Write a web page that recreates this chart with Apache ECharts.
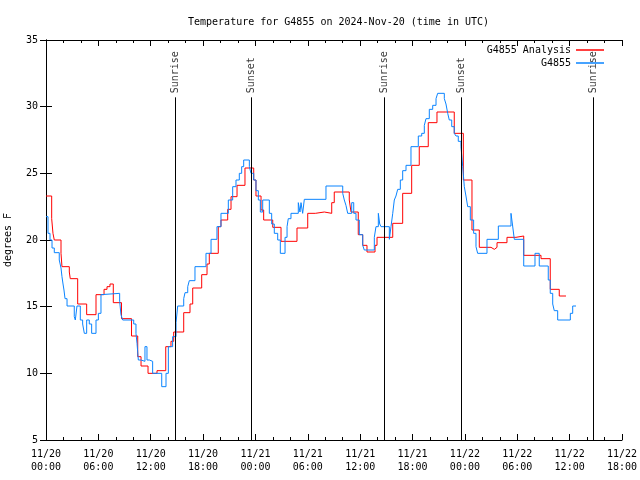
<!DOCTYPE html>
<html>
<head>
<meta charset="utf-8">
<script src="https://cdn.jsdelivr.net/npm/echarts@6/dist/echarts.min.js"></script>
<style>html,body{margin:0;padding:0;background:#fff}#c{width:640px;height:480px}</style>
</head>
<body>
<div id="c"></div>
<script>
// hours since 2024-11-20 00:00 UTC
const redTimes = [0, 0.65, 0.8, 0.95, 1.72, 1.83, 2.67, 2.78, 3.63, 4.66, 5.73, 6.65, 6.99, 7.33, 7.71, 8.65, 9.80, 10.51, 10.89, 11.69, 12.72, 13.72, 14.32, 14.63, 15.78, 16.5, 16.81, 17.84, 18.45, 18.71, 19.74, 20.05, 20.82, 21.2, 21.89, 22.8, 23.8, 24.06, 24.64, 24.94, 25.98, 26.93, 28.76, 29.99, 30.86, 31.89, 32.74, 33.03, 34.75, 34.95, 35.78, 36.29, 36.78, 37.70, 37.93, 39.73, 40.87, 41.90, 42.77, 43.8, 44.8, 46.78, 47.82, 48.81, 49.65, 50.99, 51.37, 51.68, 52.82, 53.85, 54.74, 56.72, 57.78, 58.81, 59.58];
const redTemps = [23.3, 21.6, 20.5, 20.0, 19.0, 18.0, 17.6, 17.1, 15.2, 14.4, 15.9, 16.3, 16.5, 16.7, 15.3, 14.1, 12.8, 11.25, 10.55, 10.0, 10.2, 12.0, 12.4, 13.1, 14.55, 15.2, 16.4, 17.4, 18.2, 19.0, 21.0, 21.5, 22.3, 23.25, 24.1, 25.4, 24.5, 23.3, 22.25, 21.5, 20.95, 19.9, 20.9, 22.0, 22.1, 22.0, 22.8, 23.6, 23.0, 22.1, 20.4, 19.6, 19.1, 19.6, 20.2, 21.25, 23.5, 25.6, 27.0, 28.8, 29.6, 28.0, 24.5, 20.75, 19.45, 19.3, 19.45, 19.8, 20.2, 20.3, 18.85, 18.6, 16.3, 15.8, 15.8];

const blueTimes = [0, 0.23, 0.46, 0.69, 0.95, 1.52, 1.72, 1.83, 1.95, 2.06,
  2.18, 2.41, 3.24, 3.36, 3.55, 3.93, 4.2, 4.39, 4.66, 4.96,
  5.23, 5.73, 6.0, 6.3, 6.49, 8.44, 8.59, 8.79, 10.05, 10.31,
  10.43, 10.58, 10.89, 11.34, 11.57, 11.84, 12.22, 13.26, 13.75, 14.02,
  14.51, 14.9, 15.09, 15.78, 15.93, 16.24, 16.42, 17.07, 18.33, 18.91,
  19.59, 20.05, 20.89, 21.39, 21.77, 22.15, 22.42, 22.65, 23.3, 23.49,
  23.8, 24.06, 24.33, 24.56, 24.83, 25.59, 25.86, 26.16, 26.55, 26.85,
  27.39, 27.62, 27.76, 28.07, 28.91, 29.1, 29.22, 29.41, 29.6, 32.08,
  34.0, 34.18, 34.37, 34.57, 35.03, 35.26, 35.52, 35.9, 36.29, 36.47,
  37.62, 37.81, 38.08, 38.24, 38.39, 39.34, 39.53, 39.73, 39.91, 40.1,
  40.3, 40.6, 40.87, 41.25, 41.82, 42.66, 43.05, 43.35, 43.54, 43.92,
  44.31, 44.69, 44.88, 45.64, 45.83, 46.03, 46.21, 46.49, 46.78, 46.98,
  47.24, 47.55, 47.75, 47.93, 48.12, 48.32, 48.62, 49.0, 49.27, 49.46,
  50.53, 51.83, 53.28, 53.47, 53.66, 54.74, 56.03, 56.52, 57.55, 57.78,
  58.06, 58.24, 58.63, 60.08, 60.35, 60.73];
const blueTemps = [21.75, 20.5, 20.0, 19.4, 19.05, 18.5, 17.9, 17.25, 16.7, 16.25,
  15.6, 15.05, 14.25, 14.0, 15.05, 14.0, 13.7, 13.0, 14.0, 13.7,
  13.0, 14.0, 14.5, 15.9, 16.0, 15.4, 14.4, 14.0, 13.7, 13.0,
  12.25, 11.0, 10.9, 12.0, 11.0, 10.9, 10.0, 9.0, 10.0, 12.0,
  12.75, 13.8, 15.05, 15.6, 16.05, 16.5, 16.95, 18.0, 19.0, 20.05,
  21.0, 22.0, 23.0, 24.0, 24.5, 25.0, 25.5, 26.0, 25.5, 25.0,
  24.5, 23.7, 23.0, 22.1, 23.0, 22.0, 21.2, 20.5, 20.0, 19.0,
  20.2, 21.0, 21.6, 22.0, 22.8, 22.1, 22.8, 22.0, 23.05, 24.05,
  23.5, 23.0, 22.6, 22.0, 22.8, 22.0, 21.5, 20.4, 19.6, 19.25,
  20.2, 21.0, 22.0, 21.2, 21.0, 20.05, 21.0, 22.0, 23.0, 23.3,
  23.8, 24.5, 25.2, 25.6, 27.0, 27.8, 28.0, 28.6, 29.1, 29.8,
  30.1, 30.6, 31.0, 30.6, 30.2, 29.5, 29.0, 28.5, 28.0, 27.8,
  27.4, 27.0, 25.5, 24.0, 23.3, 22.5, 21.5, 20.5, 19.5, 19.0,
  20.05, 21.05, 22.0, 21.05, 20.05, 18.05, 19.0, 18.05, 17.0, 16.0,
  15.2, 14.7, 14.0, 14.5, 15.05, 15.05];

const sunTimes = [14.8, 23.55, 38.8, 47.55, 62.7];
const sunLabels = ['Sunrise', 'Sunset', 'Sunrise', 'Sunset', 'Sunrise'];
const sunLineTop = 30.7;
const sunLabelBase = 31.0;

const xTickLabels = ['11/20\n00:00', '11/20\n06:00', '11/20\n12:00', '11/20\n18:00',
  '11/21\n00:00', '11/21\n06:00', '11/21\n12:00', '11/21\n18:00',
  '11/22\n00:00', '11/22\n06:00', '11/22\n12:00', '11/22\n18:00'];
const yTicks = [5, 10, 15, 20, 25, 30, 35];

const FONT = 'DejaVu Sans Mono';
const zip = (a, b) => a.map((t, i) => [t, b[i]]);

const chart = echarts.init(document.getElementById('c'), null, {renderer: 'canvas'});
const axisLineStyle = {show: true, lineStyle: {color: '#000', width: 1}};
const xCommon = {
  type: 'value', min: 0, max: 66, interval: 6,
  axisLine: axisLineStyle,
  axisTick: {show: true, inside: true, length: 6, lineStyle: {color: '#000'}},
  minorTick: {show: true, splitNumber: 3, length: 3, lineStyle: {color: '#000'}},
  splitLine: {show: false}, minorSplitLine: {show: false}
};
const yCommon = {
  type: 'value', min: yTicks[0], max: yTicks[yTicks.length - 1], interval: 5,
  axisLine: axisLineStyle,
  axisTick: {show: true, inside: true, length: 6, lineStyle: {color: '#000'}},
  splitLine: {show: false}
};

chart.setOption({
  animation: false,
  backgroundColor: '#fff',
  title: {
    text: 'Temperature for G4855 on 2024-Nov-20 (time in UTC)',
    left: 183, top: 12,
    textStyle: {fontFamily: FONT, fontSize: 10, fontWeight: 'normal', color: '#000'}
  },
  legend: {
    data: [{name: 'G4855 Analysis', icon: 'rect'}, {name: 'G4855', icon: 'rect'}],
    orient: 'vertical', right: 31, top: 40, align: 'right',
    itemWidth: 28, itemHeight: 1.5, itemGap: 3,
    textStyle: {fontFamily: FONT, fontSize: 10, color: '#000', padding: [0, 0, 0, 0]}
  },
  grid: {left: 46, right: 18, top: 40, bottom: 40, containLabel: false, outerBoundsMode: 'none'},
  xAxis: [
    Object.assign({}, xCommon, {
      position: 'bottom',
      axisLabel: {
        show: true, margin: 8, lineHeight: 13,
        fontFamily: FONT, fontSize: 10, color: '#000',
        formatter: v => xTickLabels[Math.round(v / 6)]
      }
    }),
    Object.assign({}, xCommon, {position: 'top', axisLabel: {show: false}})
  ],
  yAxis: [
    Object.assign({}, yCommon, {
      position: 'left',
      name: 'degrees F', nameLocation: 'middle', nameGap: 33,
      nameTextStyle: {fontFamily: FONT, fontSize: 10, color: '#000'},
      axisLabel: {show: true, margin: 8, fontFamily: FONT, fontSize: 10, color: '#000'}
    }),
    Object.assign({}, yCommon, {position: 'right', axisLabel: {show: false}})
  ],
  series: [
    {
      name: 'G4855 Analysis', type: 'line', step: 'end', showSymbol: false,
      data: zip(redTimes, redTemps),
      lineStyle: {color: '#ff0000', width: 1}, itemStyle: {color: '#ff0000'},
      markLine: {
        silent: true, symbol: 'none',
        lineStyle: {color: '#000', width: 1, type: 'solid'},
        label: {show: false},
        data: sunTimes.map(t => [{coord: [t, yTicks[0]]}, {coord: [t, sunLineTop]}])
      }
    },
    {
      name: 'G4855', type: 'line', step: 'end', showSymbol: false,
      data: zip(blueTimes, blueTemps),
      lineStyle: {color: '#0a84ff', width: 1}, itemStyle: {color: '#0a84ff'}
    },
    {
      name: 'sun', type: 'scatter', symbolSize: 0, silent: true,
      data: sunTimes.map((t, i) => [t, sunLabelBase, sunLabels[i]]),
      label: {
        show: true, position: 'inside', rotate: 90, align: 'left', verticalAlign: 'middle',
        fontFamily: FONT, fontSize: 10, color: '#000',
        formatter: p => p.data[2]
      }
    }
  ]
});
</script>
</body>
</html>
